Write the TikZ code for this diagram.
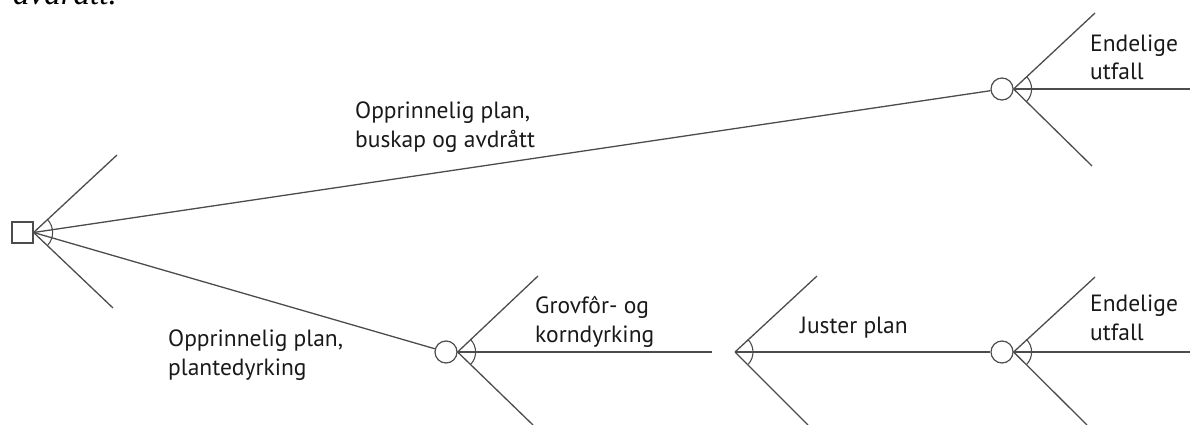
\documentclass[tikz,border=0pt]{standalone}
\usepackage{fontspec}
\setmainfont{PT Sans}
\newfontfamily\fragfont{Liberation Serif}
\begin{document}
\begin{tikzpicture}[x=1pt,y=-1pt,
  line/.style={draw=black!70,line width=1.3pt},
  decbox/.style={draw=black!70,line width=1.2pt,minimum size=21pt,inner sep=0pt,rectangle},
  chance/.style={draw=black!70,line width=1.2pt,circle,minimum size=22pt,inner sep=0pt},
  lbl/.style={anchor=base west,inner sep=0pt,align=left,text=black!90,font=\fontsize{23.5}{28.5}\selectfont},
  swing/.style={draw=black!70,line width=1.1pt}]
\useasboundingbox (0,0) rectangle (1190,425);
\begin{scope}
\clip (0,0) rectangle (1190,425);
\node[anchor=base west,inner sep=0pt,font=\fragfont\itshape\fontsize{33}{33}\selectfont,text=black] (frag) at (13,5) {avdrått.};
\end{scope}
% decision node
\node[decbox] (S) at (22.5,232.5) {};
\coordinate (Sa) at (117,155);
\coordinate (Sb) at (113,308);
\node[chance] (C1) at (1002,89) {};
\node[chance] (C2) at (446,352) {};
\node[chance] (C3) at (1002,352) {};
\coordinate (J) at (735,352);
\draw[line] (S.east) -- (Sa);
\draw[line] (S.east) -- (Sb);
\draw[line] (S.east) -- (C1);
\draw[line] (S.east) -- (C2);
\draw[swing] ([shift={(42.5:19)}]S.east) arc[start angle=42.5,end angle=-43.5,radius=19];
% C1 branches
\coordinate (C1a) at (1095,13);
\coordinate (C1b) at (1190,89);
\coordinate (C1c) at (1092,166);
\draw[line] (C1.east) -- (C1a);
\draw[line] (C1.east) -- (C1b);
\draw[line] (C1.east) -- (C1c);
\draw[swing] ([shift={(42.8:18)}]C1.east) arc[start angle=42.8,end angle=-44,radius=18];
% C2 branches
\coordinate (C2a) at (538,276);
\coordinate (C2b) at (712,352);
\coordinate (C2c) at (533,425);
\draw[line] (C2.east) -- (C2a);
\draw[line] (C2.east) -- (C2b);
\draw[line] (C2.east) -- (C2c);
\draw[swing] ([shift={(43:18)}]C2.east) arc[start angle=43,end angle=-44,radius=18];
% J branches
\coordinate (Ja) at (817,276);
\coordinate (Jc) at (808,425);
\draw[line] (J) -- (Ja);
\draw[line] (J) -- (C3);
\draw[line] (J) -- (Jc);
\draw[swing] ([shift={(42.8:18)}]J) arc[start angle=42.8,end angle=-45,radius=18];
% C3 branches
\coordinate (C3a) at (1095,277);
\coordinate (C3b) at (1190,352);
\coordinate (C3c) at (1087,425);
\draw[line] (C3.east) -- (C3a);
\draw[line] (C3.east) -- (C3b);
\draw[line] (C3.east) -- (C3c);
\draw[swing] ([shift={(42.5:18)}]C3.east) arc[start angle=42.5,end angle=-44.6,radius=18];
% labels (base anchor = baseline of last line)
\node[lbl] (t1) at (355,147) {Opprinnelig plan,\\buskap og avdrått};
\node[lbl] (t2) at (168,375) {Opprinnelig plan,\\plantedyrking};
\node[lbl] (t3) at (535,342) {Grovfôr- og\\korndyrking};
\node[lbl] (t4) at (800,333) {Juster plan};
\node[lbl] (t5) at (1090,80) {Endelige\\utfall};
\node[lbl] (t6) at (1090,340) {Endelige\\utfall};
\end{tikzpicture}
\end{document}
